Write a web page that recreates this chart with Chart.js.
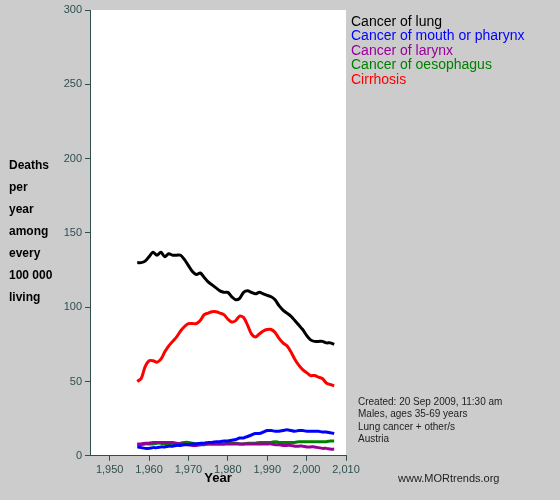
<!DOCTYPE html>
<html><head><meta charset="utf-8">
<script src="https://cdn.jsdelivr.net/npm/chart.js@4"></script>
<style>html,body{margin:0;background:#cccccc;}#wrap{width:560px;height:500px;}</style>
</head><body><div id="wrap"><canvas id="c" width="560" height="500"></canvas></div>
<script>
const years = [];
for (let y = 1957; y <= 2007; y++) years.push(y);

const lung = [130,130,131,134,137,135,137,134,136,135,135,135,132,128,124,122,123,120,117,115,113,111,110,110,107,105,106,110,111,110,109,110,109,108,107,105,101,98,96,94,91,88,85,81,78,77,77,77,76,76,75];
const mouth = [6,5.5,5,5,5.5,5.5,6,6,6.5,6.5,7,7,7.5,7.5,8,8,8.5,8.5,9,9,9.5,9.5,10,10,10.5,11,12,12,13,14,15,15,16,17,17,16.5,16.5,17,17.5,17,16.5,17,17,16.5,16.5,16.5,16.5,16,16,15.5,15];
const larynx = [8,8,8.5,8.5,9,9,9,9,9,9,8.5,8,8,7.5,7,7,7.5,8,8,8,8,8,8,8,8,8,8,8,8,8,8,8,8,8,8,7.5,7.5,7,7,7,6.5,6.5,6.5,6,6,6,5.5,5,5,4.5,4.5];
const oesophagus = [7.5,7.5,8,8,8,8.5,8.5,8,7.5,7,7.5,8.5,9,9,8.5,8,7.5,7.5,8,8,8,8,8,8.5,8.5,8.5,8,8,8.5,8.5,8.5,9,9,9,9,9.5,9,9,9,9,9,9.5,9.5,9.5,9.5,9.5,9.5,9.5,9.5,10,10];
const cirrhosis = [50,52,60,64,64,63,65,70,74,77,80,84,87,89,89,89,91,95,96,97,97,96,95,92,90,91,94,93,88,82,80,82,84,85,85,83,79,76,74,70,65,61,58,56,54,54,53,52,49,48,47];

const seriesNames = ['Cancer of lung','Cancer of mouth or pharynx','Cancer of larynx','Cancer of oesophagus','Cirrhosis'];
const seriesColors = ['#000000','#0000ff','#990099','#008000','#ff0000'];
const seriesData = [lung, mouth, larynx, oesophagus, cirrhosis];

const yTitle = ['Deaths','per','year','among','every','100 000','living'];
const notes = ['Created: 20 Sep 2009, 11:30 am','Males, ages 35-69 years','Lung cancer + other/s','Austria'];

const textPlugin = {
  id: 'texts',
  beforeDraw(chart) {
    const ctx = chart.ctx, a = chart.chartArea;
    ctx.save();
    ctx.fillStyle = '#ffffff';
    ctx.fillRect(a.left, a.top, a.right - a.left, a.bottom - a.top);
    ctx.restore();
  },
  afterDraw(chart) {
    const ctx = chart.ctx;
    ctx.save();
    ctx.textBaseline = 'middle';
    ctx.font = '14px Arial, "Liberation Sans", sans-serif';
    seriesNames.forEach((n, i) => {
      ctx.fillStyle = seriesColors[i];
      ctx.fillText(n, 351, 22 + i * 14.5);
    });
    ctx.fillStyle = '#000';
    ctx.font = 'bold 12px Arial, "Liberation Sans", sans-serif';
    yTitle.forEach((t, i) => ctx.fillText(t, 9, 166 + i * 22));
    ctx.textAlign = 'center';
    ctx.font = 'bold 13px Arial, "Liberation Sans", sans-serif';
    ctx.fillText('Year', 218, 478);
    ctx.textAlign = 'left';
    ctx.font = '10px Arial, "Liberation Sans", sans-serif';
    ctx.fillStyle = '#222';
    notes.forEach((t, i) => ctx.fillText(t, 358, 402 + i * 12.5));
    ctx.font = '11px Arial, "Liberation Sans", sans-serif';
    ctx.fillText('www.MORtrends.org', 398, 479);
    ctx.restore();
  }
};

new Chart(document.getElementById('c'), {
  type: 'line',
  data: {
    datasets: seriesData.map((d, i) => ({
      label: seriesNames[i],
      data: d.map((v, j) => ({ x: years[j], y: v })),
      borderColor: seriesColors[i],
      borderWidth: 3,
      pointRadius: 0,
      tension: 0.3,
      fill: false
    }))
  },
  options: {
    responsive: false,
    animation: false,
    layout: { padding: { left: 40, right: 214, top: 10, bottom: 20 } },
    plugins: { legend: { display: false }, tooltip: { enabled: false } },
    scales: {
      x: {
        type: 'linear', min: 1945, max: 2010,
        afterBuildTicks: s => { s.ticks = [1950,1960,1970,1980,1990,2000,2010].map(v => ({ value: v })); },
        grid: { drawOnChartArea: false, color: '#2f4f4f', tickLength: 5 },
        border: { color: '#2f4f4f' },
        ticks: { color: '#2f4f4f', font: { size: 11, family: 'Arial, "Liberation Sans"' }, maxRotation: 0 }
      },
      y: {
        min: 0, max: 300,
        grid: { drawOnChartArea: false, color: '#2f4f4f', tickLength: 5 },
        border: { color: '#2f4f4f' },
        ticks: { stepSize: 50, color: '#2f4f4f', font: { size: 11, family: 'Arial, "Liberation Sans"' } },
        afterFit: s => { s.width = 50; }
      }
    }
  },
  plugins: [textPlugin]
});
</script></body></html>
